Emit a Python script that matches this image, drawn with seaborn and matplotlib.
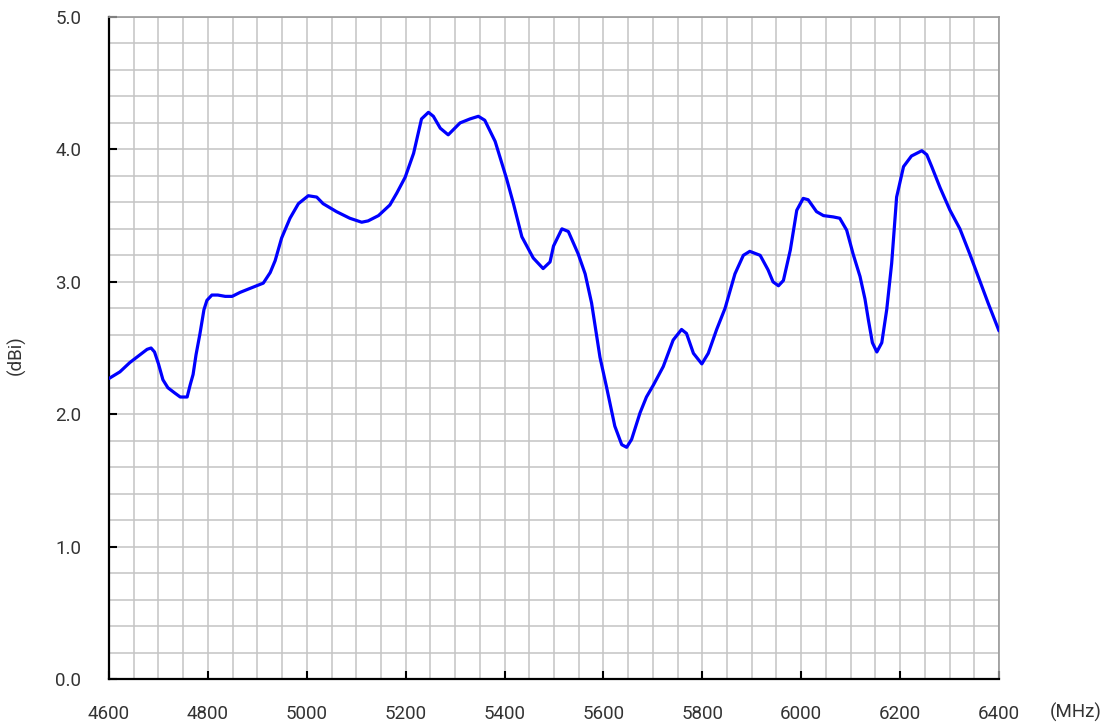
import numpy as np
import matplotlib
matplotlib.use('Agg')
import matplotlib.pyplot as plt
import pandas as pd
import seaborn as sns

# gain curve
freq = [4600, 4622, 4642, 4663, 4677, 4685, 4692, 4700, 4709, 4719, 4733, 4744, 4758,
        4764, 4770, 4776, 4784, 4792, 4798, 4808, 4820, 4835, 4849, 4865, 4885, 4912,
        4926, 4936, 4949, 4966, 4983, 5003, 5020, 5033, 5060, 5087, 5111, 5124, 5145,
        5168, 5182, 5199, 5216, 5232, 5246, 5256, 5270, 5286, 5310, 5330, 5347, 5360,
        5381, 5404, 5418, 5435, 5458, 5478, 5492, 5499, 5516, 5529, 5549, 5563, 5576,
        5593, 5606, 5623, 5637, 5647, 5657, 5674, 5687, 5701, 5721, 5741, 5758, 5768,
        5782, 5799, 5812, 5829, 5846, 5866, 5883, 5896, 5917, 5933, 5943, 5954, 5964,
        5978, 5991, 6004, 6014, 6031, 6045, 6065, 6078, 6092, 6105, 6119, 6129, 6136,
        6144, 6153, 6163, 6173, 6183, 6193, 6207, 6223, 6244, 6254, 6264, 6281, 6301,
        6321, 6341, 6358, 6378, 6400]
gain = [2.27, 2.32, 2.39, 2.45, 2.49, 2.50, 2.47, 2.38, 2.26, 2.20, 2.16, 2.13, 2.13,
        2.22, 2.30, 2.45, 2.61, 2.79, 2.86, 2.90, 2.90, 2.89, 2.89, 2.92, 2.95, 2.99,
        3.07, 3.16, 3.33, 3.48, 3.59, 3.65, 3.64, 3.59, 3.53, 3.48, 3.45, 3.46, 3.50,
        3.58, 3.67, 3.79, 3.97, 4.23, 4.28, 4.25, 4.16, 4.11, 4.20, 4.23, 4.25, 4.22,
        4.06, 3.78, 3.59, 3.34, 3.18, 3.10, 3.15, 3.27, 3.40, 3.38, 3.21, 3.06, 2.84,
        2.43, 2.21, 1.91, 1.77, 1.75, 1.81, 2.01, 2.13, 2.22, 2.36, 2.56, 2.64, 2.61,
        2.46, 2.38, 2.46, 2.64, 2.80, 3.06, 3.20, 3.23, 3.20, 3.09, 3.00, 2.97, 3.01,
        3.24, 3.54, 3.63, 3.62, 3.53, 3.50, 3.49, 3.48, 3.39, 3.21, 3.04, 2.87, 2.71,
        2.54, 2.47, 2.54, 2.79, 3.14, 3.64, 3.87, 3.95, 3.99, 3.96, 3.87, 3.71, 3.54,
        3.40, 3.21, 3.04, 2.84, 2.63]

x_ticks = [4600, 4800, 5000, 5200, 5400, 5600, 5800, 6000, 6200, 6400]
y_ticks = [0.0, 1.0, 2.0, 3.0, 4.0, 5.0]

df = pd.DataFrame({'freq': freq, 'gain': gain})

sns.set_style('white')
plt.rcParams['font.family'] = ['Roboto', 'DejaVu Sans']

fig = plt.figure(figsize=(11.07, 7.26), dpi=100)
ax = fig.add_axes([0.0985, 0.0647, 0.8039, 0.9119])

sns.lineplot(data=df, x='freq', y='gain', color='#0000ff', linewidth=2.3, ax=ax, zorder=3)

ax.set_xlim(4600, 6400)
ax.set_ylim(0, 5)
ax.set_xticks(x_ticks)
ax.set_yticks(y_ticks)
ax.set_xticklabels([str(t) for t in x_ticks])
ax.set_yticklabels(['%.1f' % t for t in y_ticks])
ax.set_xticks(np.arange(4600, 6401, 50), minor=True)
ax.set_yticks(np.arange(0, 5.01, 0.2), minor=True)
ax.grid(which='both', color='#c4c4c4', linewidth=1.1, zorder=0)
ax.set_axisbelow(True)

ax.tick_params(which='major', direction='in', length=6, width=1.5, color='black',
               labelsize=13.5, labelcolor='#333333', left=True, bottom=True)
ax.tick_params(axis='x', pad=19)
ax.tick_params(axis='y', pad=20)
ax.tick_params(which='minor', length=0)

for s in ['left', 'bottom']:
    ax.spines[s].set_color('black')
    ax.spines[s].set_linewidth(1.6)
for s in ['top', 'right']:
    ax.spines[s].set_color('#999999')
    ax.spines[s].set_linewidth(1.2)

ax.set_xlabel('')
ax.set_ylabel('(dBi)', fontsize=13.5, color='#333333')
ax.yaxis.set_label_coords(-0.094, 0.49)
fig.text(0.9955, 0.019, '(MHz)', ha='right', va='center', fontsize=13.5, color='#333333')

plt.savefig('out.png', dpi=100)
